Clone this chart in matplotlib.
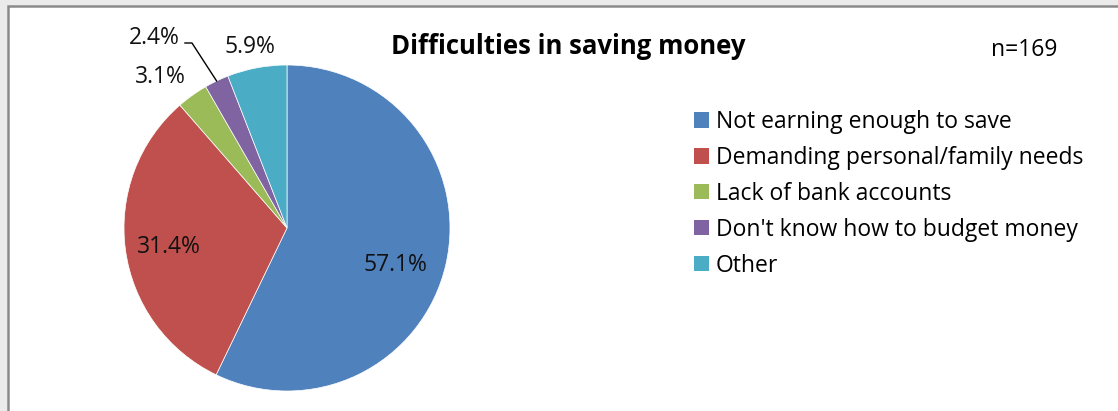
import matplotlib
matplotlib.use("Agg")
import matplotlib.pyplot as plt
import numpy as np
from matplotlib.patches import Rectangle

# survey answers, n=169
categories = [
    "Not earning enough to save",
    "Demanding personal/family needs",
    "Lack of bank accounts",
    "Don't know how to budget money",
    "Other",
]
shares = [57.1, 31.4, 3.1, 2.4, 5.9]
colors = ["#4F81BD", "#C0504D", "#9BBB59", "#8064A2", "#4BACC6"]

# label anchor points (in pie radii) for each percentage
label_pos = [(0.663, -0.227), (-0.724, -0.117), (-0.779, 0.926), (-0.816, 1.166), (-0.227, 1.110)]

W, H = 1118, 411
plt.rcParams["font.family"] = ["Open Sans", "DejaVu Sans"]

fig = plt.figure(figsize=(W / 100, H / 100), dpi=100)
fig.patch.set_facecolor("#ebebeb")

# white chart area with grey frame
fig.patches.append(Rectangle((8 / W, -0.1), 1.2, (H - 6) / H + 0.1, transform=fig.transFigure,
                             facecolor="white", edgecolor="#8a8a8a", linewidth=1.8, zorder=-5))

cx, cy, r = 287, 228, 163
ax = fig.add_axes([(cx - r) / W, (H - cy - r) / H, 2 * r / W, 2 * r / H])

wedges, _ = ax.pie(shares, colors=colors, startangle=90, counterclock=False, radius=1,
                   wedgeprops=dict(edgecolor="white", linewidth=0.5))
# pie() pads the limits to 1.25; keep the disc filling the axes
ax.set_xlim(-1, 1)
ax.set_ylim(-1, 1)
ax.set_aspect("equal")
ax.axis("off")

for val, (lx, ly) in zip(shares, label_pos):
    ax.text(lx, ly, f"{val}%", ha="center", va="center", fontsize=16.5, color="#111111")

# leader line for the small purple slice
w = wedges[3]
mid = np.deg2rad((w.theta1 + w.theta2) / 2)
ax.plot([-0.626, -0.583, np.cos(mid)], [1.135, 1.135, np.sin(mid)], color="black",
        linewidth=1, clip_on=False)

fig.text(568 / W, 1 - 46 / H, "Difficulties in saving money", ha="center", va="center",
         fontsize=18.5, fontweight="bold")
fig.text(1024 / W, 1 - 50 / H, "n=169", ha="center", va="center", fontsize=16.5)

handles = [Rectangle((0, 0), 1, 1, facecolor=c) for c in colors]
fig.legend(handles, categories, loc="upper left", bbox_to_anchor=(694 / W, 1 - 110 / H),
           frameon=False, fontsize=16.5, handlelength=0.65, handleheight=0.65,
           handletextpad=0.3, labelspacing=0.52, borderaxespad=0, borderpad=0)

fig.savefig("out.png", dpi=100, facecolor=fig.get_facecolor())
